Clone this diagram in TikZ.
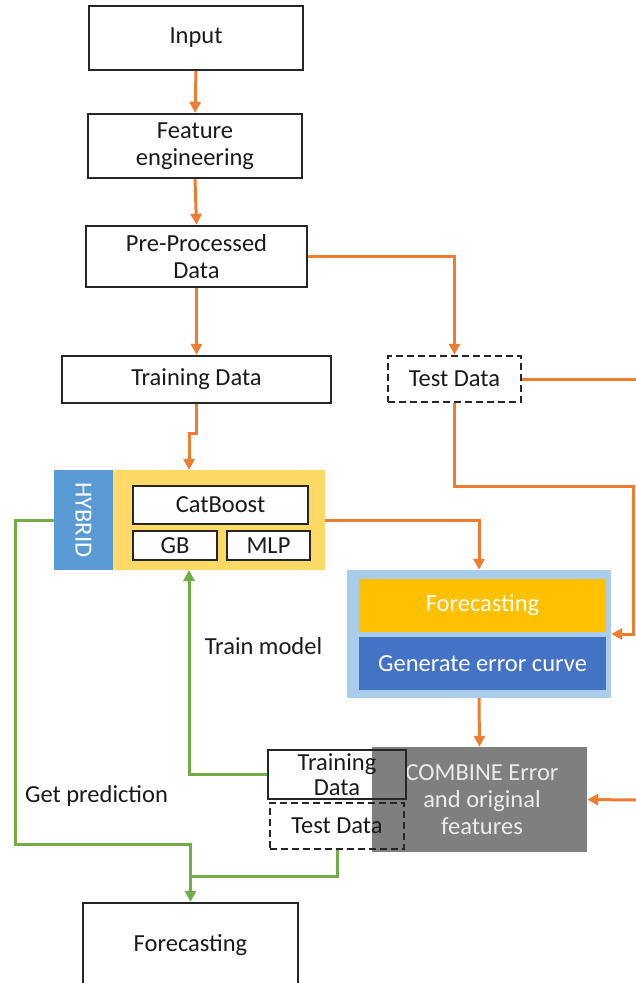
\documentclass[tikz,border=0pt]{standalone}
\usepackage{fontspec}
\setmainfont{Carlito}
\usetikzlibrary{arrows.meta,calc}
\definecolor{oline}{HTML}{ED7D31}
\definecolor{gline}{HTML}{70AD47}
\definecolor{hybblue}{HTML}{5B9BD5}
\definecolor{hybyel}{HTML}{FFD966}
\definecolor{outblue}{HTML}{A9CDEB}
\definecolor{fcyel}{HTML}{FFC000}
\definecolor{genblue}{HTML}{4472C4}
\definecolor{combgray}{HTML}{7F7F7F}
\definecolor{boxline}{HTML}{262626}
\definecolor{txt}{HTML}{1A1A1A}
\tikzset{
  every node/.style={font=\fontsize{24.5}{27}\selectfont, text=txt, inner sep=0pt, align=center},
  wbox/.style={draw=boxline, line width=2.4pt, fill=white},
  dbox/.style={draw=boxline, line width=2.4pt, dash pattern=on 7pt off 4pt},
  obox/.style={draw=boxline, line width=2.4pt},
  oarr/.style={draw=oline, line width=3pt, -{Triangle[length=11pt,width=11pt]}},
  olin/.style={draw=oline, line width=3pt},
  garr/.style={draw=gline, line width=3pt, -{Triangle[length=11pt,width=11pt]}},
  glin/.style={draw=gline, line width=3pt},
}
\begin{document}
\begin{tikzpicture}[x=1pt,y=-1pt]
\useasboundingbox (0,0) rectangle (636,983);
% top chain
\node[wbox, minimum width=214pt, minimum height=64pt] (inp) at (196,38) {Input};
\node[wbox, minimum width=214pt, minimum height=64pt] (feat) at (195,146) {Feature\\engineering};
\node[wbox, minimum width=221pt, minimum height=61pt] (pre) at (196.5,256.5) {Pre-Processed\\Data};
\node[wbox, minimum width=269pt, minimum height=47pt] (train) at (196.5,379.5) {Training Data};
\node[dbox, minimum width=133pt, minimum height=46pt] (test) at (454.5,379) {Test Data};
% hybrid
\node[fill=hybblue, minimum width=59pt, minimum height=100pt] (hyb) at (83.5,520) {};
\node[text=white, rotate=-90] (hybt) at (hyb.center) {HYBRID};
\node[fill=hybyel, minimum width=212pt, minimum height=100pt] (yel) at (219,520) {};
\node[wbox, minimum width=175pt, minimum height=38pt] (cat) at (220.5,505) {CatBoost};
\node[wbox, minimum width=84pt, minimum height=29pt] (gb) at (175,545.5) {GB};
\node[wbox, minimum width=83pt, minimum height=29pt] (mlp) at (268.5,545.5) {MLP};
% forecasting block
\node[fill=outblue, minimum width=264pt, minimum height=128pt] (outer) at (479,634) {};
\node[fill=fcyel, text=white, minimum width=247pt, minimum height=53pt] (fc) at (482.5,605.5) {Forecasting};
\node[fill=genblue, text=white, minimum width=247pt, minimum height=53pt] (gen) at (482.5,663.5) {Generate error curve};
% combine
\node[fill=combgray, minimum width=215pt, minimum height=105pt] (comb) at (479.5,799.5) {};
\node[text=white!92!black] (combt) at (482,800) {COMBINE Error\\and original\\features};
\node[obox, minimum width=138pt, minimum height=49pt] (tr2) at (337,774.5) {};
\node[font=\fontsize{24.5}{25}\selectfont] (tr2t) at (337,774.5) {Training\\Data};
\node[dbox, minimum width=134pt, minimum height=46pt] (te2) at (337,826) {Test Data};
% final
\node[wbox, minimum width=215pt, minimum height=90pt] (out) at (190.5,948) {};
\node (outt) at (190.5,945) {Forecasting};
% labels
\node (lbtrain) at (263.5,646) {Train model};
\node (lbpred) at (96.5,796) {Get prediction};
% coordinates
\coordinate (yin) at (189,470);
\coordinate (yout) at (189,570);
\coordinate (edgeA) at (636,379);
\coordinate (edgeB) at (636,800);
\coordinate (rt) at (633,486);
\coordinate (gl) at (15,844);
\coordinate (jn) at (190.5,876);
% orange connectors
\draw[oarr] (inp.south) -- (feat.north);
\draw[oarr] (feat.south) -- (pre.north);
\draw[oarr] (pre.south) -- (train.north);
\draw[oarr] (pre.east) -| (test.north);
\draw[oarr] (train.south) -- ++(0,29) -| (yin);
\draw[olin] (test.east) -- (edgeA);
\draw[oarr] (test.south) |- (rt) |- (outer.east);
\draw[oarr] (yel.east) -| (outer.north);
\draw[oarr] (outer.south) -- (comb.north);
\draw[oarr] (edgeB) -- (comb.east);
% green connectors
\draw[garr] (hyb.west) -| (gl) -| (out.north);
\draw[glin] (te2.south) |- (jn);
\draw[garr] (tr2.west) -| (yout);
\end{tikzpicture}
\end{document}
